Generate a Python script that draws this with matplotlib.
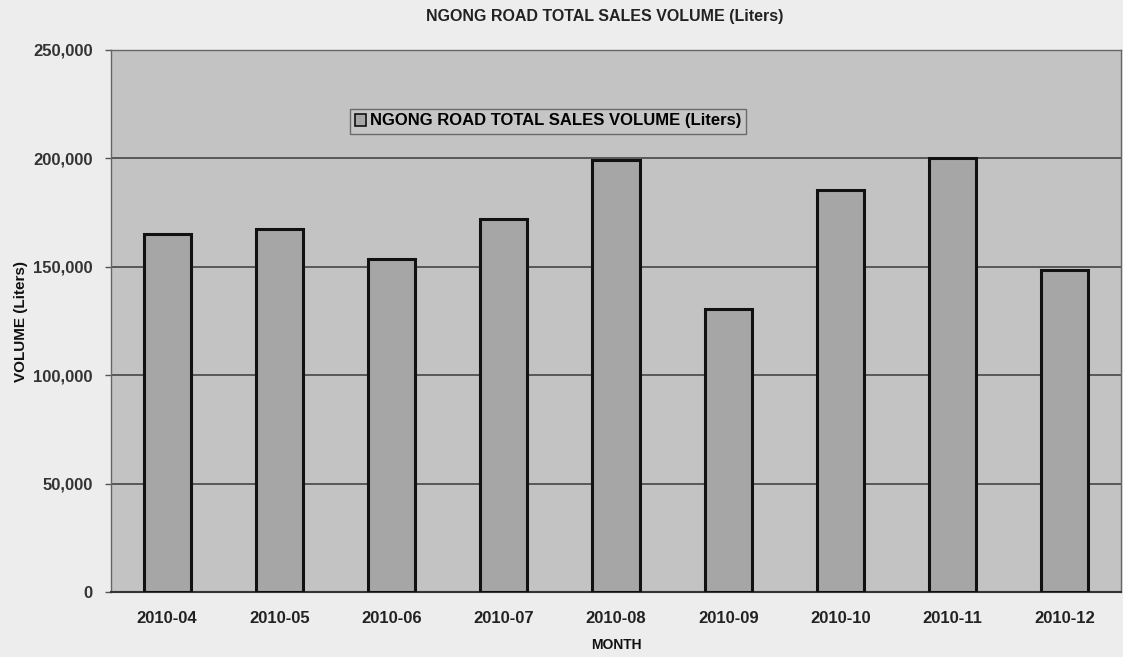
import matplotlib
matplotlib.use("Agg")
import matplotlib.pyplot as plt
from matplotlib.ticker import FuncFormatter

months = ["2010-04", "2010-05", "2010-06", "2010-07", "2010-08",
          "2010-09", "2010-10", "2010-11", "2010-12"]
volumes = [165000, 167500, 153500, 172000, 199200, 130500, 185400, 200000, 148500]
series_name = "NGONG ROAD TOTAL SALES VOLUME (Liters)"
title = "NGONG ROAD TOTAL SALES VOLUME (Liters)"
yticks = [0, 50000, 100000, 150000, 200000, 250000]

plt.rcParams['font.family'] = ['Liberation Sans', 'DejaVu Sans']

fig = plt.figure(figsize=(11.23, 6.57), dpi=100, facecolor='#ededed')
ax = fig.add_axes([111/1123, 1-592/657, (1121-111)/1123, (592-50)/657])
ax.set_facecolor('#c3c3c3')

x = list(range(len(months)))
ax.bar(x, volumes, width=0.42, color='#a6a6a6', edgecolor='#111111',
       linewidth=2.2, zorder=3, label=series_name)

ax.set_xlim(-0.5, len(months) - 0.5)
ax.set_ylim(0, 250000)
ax.set_yticks(yticks)
ax.yaxis.set_major_formatter(FuncFormatter(lambda v, p: f"{int(v):,}"))
ax.set_xticks(x)
ax.set_xticklabels(months, fontsize=12, fontweight='bold', color='#222222')
ax.tick_params(axis='x', length=0, pad=14)
ax.tick_params(axis='y', length=4, width=1, color='#555555', labelsize=12,
               labelcolor='#333333', pad=9)
for lbl in ax.get_yticklabels():
    lbl.set_fontweight('bold')

ax.grid(axis='y', color='#3a3a3a', linewidth=1.1, zorder=1)
ax.set_axisbelow(True)
for side in ['top', 'right', 'bottom', 'left']:
    ax.spines[side].set_color('#666666')
    ax.spines[side].set_linewidth(1.0)
ax.spines['bottom'].set_color('#333333')
ax.spines['bottom'].set_linewidth(1.5)

ax.set_xlabel("MONTH", fontsize=10, fontweight='bold', labelpad=8, color='#111111')
ax.set_ylabel("VOLUME (Liters)", fontsize=11, fontweight='bold', labelpad=4, color='#111111')

fig.text(605/1123, 1-16/657, title, ha='center', va='center', fontsize=11.5,
         fontweight='bold', color='#222222')

leg = ax.legend(loc='center', bbox_to_anchor=((548-111)/1010, (592-121)/542),
                prop={'weight': 'bold', 'size': 12}, frameon=True,
                fancybox=False, handlelength=0.7, handleheight=0.7,
                handletextpad=0.2, borderpad=0.3, borderaxespad=0)
leg.get_frame().set_facecolor('#c8c8c8')
leg.get_frame().set_edgecolor('#555555')
leg.get_frame().set_linewidth(1.0)
for h in leg.legend_handles:
    h.set_linewidth(1.2)

fig.savefig("out.png", dpi=100, facecolor=fig.get_facecolor())
